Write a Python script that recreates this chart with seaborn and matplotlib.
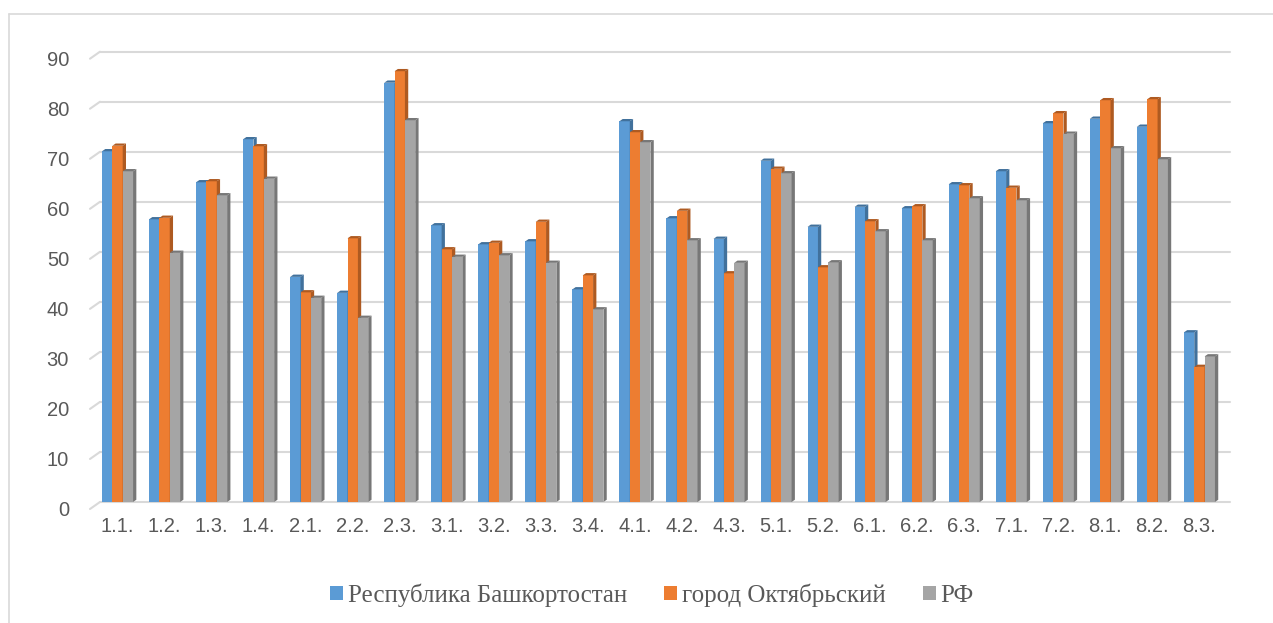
import numpy as np
import pandas as pd
import matplotlib
matplotlib.use('Agg')
import matplotlib.pyplot as plt
import matplotlib.transforms as mtransforms
from matplotlib.patches import Polygon, Patch
from matplotlib.lines import Line2D
from matplotlib.font_manager import FontProperties
import seaborn as sns

categories = ['1.1.', '1.2.', '1.3.', '1.4.', '2.1.', '2.2.', '2.3.', '3.1.', '3.2.', '3.3.',
              '3.4.', '4.1.', '4.2.', '4.3.', '5.1.', '5.2.', '6.1.', '6.2.', '6.3.', '7.1.',
              '7.2.', '8.1.', '8.2.', '8.3.']
series_names = ['Республика Башкортостан', 'город Октябрьский', 'РФ']

bashkortostan = [70.1, 56.5, 63.9, 72.5, 45.0, 41.8, 83.8, 55.3, 51.5, 52.1, 42.5, 76.1,
                 56.7, 52.6, 68.2, 55.0, 59.0, 58.7, 63.5, 66.1, 75.7, 76.6, 75.0, 33.9]
oktyabrsky = [71.2, 56.8, 64.1, 71.1, 41.9, 52.7, 86.1, 50.5, 51.8, 56.0, 45.3, 73.9,
              58.2, 45.7, 66.6, 46.9, 56.1, 59.1, 63.3, 62.8, 77.7, 80.3, 80.5, 27.0]
rf = [66.1, 49.8, 61.3, 64.6, 40.8, 36.8, 76.3, 49.0, 49.3, 47.8, 38.5, 71.9,
      52.3, 47.8, 65.7, 47.9, 54.1, 52.3, 60.7, 60.3, 73.6, 70.7, 68.5, 29.1]
y_ticks = [0, 10, 20, 30, 40, 50, 60, 70, 80, 90]

front_colors = ['#5B9BD5', '#ED7D31', '#A5A5A5']
side_colors = ['#41719C', '#AE5A21', '#777777']
grid_color = '#D9D9D9'

df = pd.DataFrame({
    'category': categories * 3,
    'series': np.repeat(series_names, len(categories)),
    'value': bashkortostan + oktyabrsky + rf,
})

sns.set_style('white')
plt.rcParams['font.family'] = ['Liberation Sans', 'DejaVu Sans']

fig = plt.figure(figsize=(12.73, 6.23), dpi=100)
ax = fig.add_axes([94 / 1273, 1 - 502 / 623, 1136 / 1273, (502 - 51.7) / 623])

sns.barplot(data=df, x='category', y='value', hue='series', order=categories,
            hue_order=series_names, palette=front_colors, saturation=1,
            width=0.66, gap=0, linewidth=0, legend=False, ax=ax)

# fake 3D: dark side and top on every bar
dx, dy = 0.07, 0.45
for i, cont in enumerate(ax.containers):
    z = 3 + 2 * i
    for bar in cont:
        x0, w, h = bar.get_x(), bar.get_width(), bar.get_height()
        x1 = x0 + w
        bar.set_zorder(z)
        side = Polygon([(x1, 0), (x1 + dx, dy), (x1 + dx, h + dy), (x1, h)],
                       closed=True, facecolor=side_colors[i], edgecolor='none', zorder=z + 0.5)
        top = Polygon([(x0, h), (x0 + dx, h + dy), (x1 + dx, h + dy), (x1, h)],
                      closed=True, facecolor=side_colors[i], edgecolor='none', zorder=z + 0.5)
        ax.add_patch(side)
        ax.add_patch(top)

ax.set_xlim(-0.5, 23.65)
ax.set_ylim(0, 90)
ax.set_yticks(y_ticks)

# back-wall gridlines with the little floor diagonal on the left
for t in y_ticks:
    ax.plot([-0.373, 23.65], [t, t], color=grid_color, lw=1.5, zorder=1, clip_on=False)
    ax.plot([-0.585, -0.373], [t - 1.4, t], color=grid_color, lw=1.5, zorder=1, clip_on=False)

for s in ax.spines.values():
    s.set_visible(False)
ax.set_xlabel('')
ax.set_ylabel('')
ax.tick_params(axis='y', length=0, pad=18, labelsize=14.5, labelcolor='#595959')
ax.tick_params(axis='x', length=0, pad=11, labelsize=14.5, labelcolor='#595959')
shift = mtransforms.ScaledTranslation(0, -7 / 100, fig.dpi_scale_trans)
for lab in ax.get_yticklabels():
    lab.set_transform(lab.get_transform() + shift)

handles = [Patch(facecolor=c, edgecolor='none') for c in front_colors]
leg_font = FontProperties(family=['Liberation Serif', 'DejaVu Serif'], size=18)
leg = fig.legend(handles, series_names, loc='center', bbox_to_anchor=(652 / 1273, 1 - 595 / 623),
                 ncol=3, frameon=False, handlelength=0.5, handleheight=0.5, handletextpad=0.2,
                 columnspacing=1.5, prop=leg_font)
for t in leg.get_texts():
    t.set_color('#595959')

# chart area border
fig.add_artist(Line2D([9 / 1273, 1.01], [1 - 14 / 623] * 2, color=grid_color, lw=1.2,
                      transform=fig.transFigure))
fig.add_artist(Line2D([9 / 1273] * 2, [-0.01, 1 - 14 / 623], color=grid_color, lw=1.2,
                      transform=fig.transFigure))

fig.savefig('out.png', dpi=100)
